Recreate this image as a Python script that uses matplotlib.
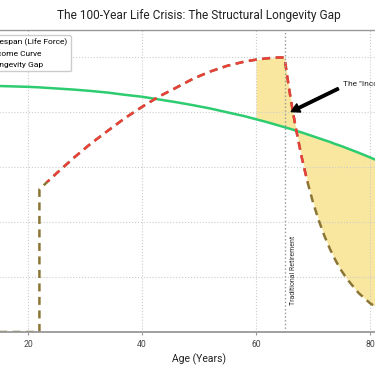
import numpy as np
import matplotlib.pyplot as plt
from matplotlib.patches import Rectangle

plt.rcParams['font.family'] = ['Roboto', 'DejaVu Sans']

# ages shared by both curves (22 appears twice: income jumps at career start)
ages = [0, 10, 20, 22, 22, 25, 28, 31, 34, 37, 40, 43, 46, 49, 52, 55, 58, 60, 62, 64,
        65, 65.5, 66, 66.5, 67, 68, 69, 70, 71, 72, 73, 74, 75, 76, 78, 80, 82, 85, 88,
        91, 95, 100]
healthspan = [90.0, 89.9, 89.3, 89.1, 89.1, 88.7, 88.3, 87.8, 87.2, 86.4, 85.7, 84.7,
              83.7, 82.6, 81.4, 80.0, 78.6, 77.5, 76.4, 75.2, 74.6, 74.3, 74.0, 73.7,
              73.3, 72.7, 72.0, 71.3, 70.6, 69.9, 69.2, 68.4, 67.7, 66.9, 65.3, 63.6,
              61.8, 59.1, 56.2, 53.1, 48.7, 42.8]
income = [0, 0, 0, 0, 52.0, 57.8, 63.4, 68.6, 73.3, 77.9, 82.0, 85.8, 89.0, 92.3, 94.9,
          97.0, 98.5, 99.2, 99.7, 100.0, 100.0, 92.8, 86.1, 79.9, 74.1, 63.8, 54.9, 47.2,
          40.7, 35.0, 30.1, 25.9, 22.3, 19.2, 14.2, 10.5, 7.8, 5.0, 3.2, 2.0, 1.1, 0.5]

gap_start = 60
color_split = 54.5

ages_arr = np.array(ages)
health_arr = np.array(healthspan)
income_arr = np.array(income)

fig = plt.figure(figsize=(3.75, 3.66), dpi=100)
ax = fig.add_axes([-0.1533, 0.0929, 1.368, 0.8251])

gap = ax.fill_between(ages_arr, income_arr, health_arr, where=ages_arr >= gap_start,
                      color='#f1c40f', alpha=0.4, lw=0, label='Longevity Gap')
health_line, = ax.plot(ages_arr, health_arr, color='#2ecc71', lw=1.8,
                       label='Lifespan (Life Force)')

dash = (0, (3.2, 2.2))
ax.plot(ages_arr, income_arr, color='#8b7535', lw=1.8, ls=dash)
income_line, = ax.plot(ages_arr, income_arr, color='#e8403a', lw=1.8, ls=dash,
                       label='Income Curve')
clip = Rectangle((0, color_split), 100, 100, transform=ax.transData)
income_line.set_clip_path(clip)

ax.axvline(65, color='#999999', ls=':', lw=1)
ax.text(66, 10, 'Traditional Retirement', rotation=90, fontsize=5.0, color='#333333',
        va='bottom', ha='left')

ax.annotate('The "Income Cliff"', xy=(65.9, 80), xytext=(75.2, 90.5), fontsize=6.0,
            va='center', color='#222222',
            arrowprops=dict(facecolor='black', edgecolor='black', shrink=0.03,
                            width=1.8, headwidth=6.5, headlength=6))

ax.set_xticks(range(0, 101, 20))
ax.set_yticks(range(0, 101, 20))
ax.set_xlim(5, 95)
ax.set_ylim(0, 110)
ax.tick_params(labelsize=6.2, colors='#444444', length=2.5, color='#999999')
ax.grid(True, ls=':', color='#cccccc', lw=0.8)
for side in ax.spines:
    ax.spines[side].set_color('#999999')
    ax.spines[side].set_linewidth(1.0)
ax.spines['bottom'].set_linewidth(1.3)

ax.set_title('The 100-Year Life Crisis: The Structural Longevity Gap', fontsize=8.6,
             pad=8, color='#222222')
ax.set_xlabel('Age (Years)', fontsize=7.5, color='#222222', labelpad=3)
ax.legend(handles=[health_line, income_line, gap], loc='upper left', fontsize=6.0,
          bbox_to_anchor=(0.0405, 0.983), borderaxespad=0, framealpha=1,
          edgecolor='#cccccc')

fig.savefig('out.png', dpi=100)
